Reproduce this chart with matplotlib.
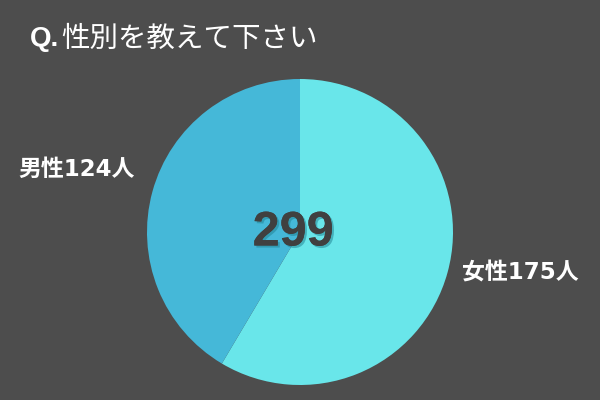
import matplotlib.pyplot as plt
from matplotlib import patheffects

plt.rcParams['font.family'] = ['Noto Sans CJK JP', 'DejaVu Sans']

# data
labels = ["女性175人", "男性124人"]
values = [175, 124]
colors = ["#69e6ea", "#45b8d8"]
total_label = "299"
title = "性別を教えて下さい"

bg = "#4d4d4d"
mixed = ["DejaVu Sans", "Noto Sans CJK JP"]

fig = plt.figure(figsize=(6, 4), dpi=100, facecolor=bg)
ax = fig.add_axes([0, 0, 1, 1])
ax.set_facecolor(bg)

ax.pie(values, colors=colors, startangle=90, counterclock=False,
       center=(300, 168), radius=153, frame=True)
ax.set_xlim(0, 600)
ax.set_ylim(0, 400)
ax.set_aspect("equal")
ax.axis("off")

# title
ax.text(30, 361, "Q.", color="white", fontsize=20, fontweight="bold",
        va="center", ha="left", family="Liberation Sans")
ax.text(61, 361, title, color="white", fontsize=20.5, va="center", ha="left")

# labels
ax.text(18, 231, labels[1], color="white", fontsize=16.5, fontweight="bold",
        va="center", ha="left", family=mixed)
ax.text(462, 127, labels[0], color="white", fontsize=16.5, fontweight="bold",
        va="center", ha="left", family=mixed)

# center total
ax.text(293, 167, total_label, color="#404040", fontsize=35, fontweight="bold",
        va="center", ha="center", family="Liberation Sans",
        path_effects=[patheffects.withSimplePatchShadow(offset=(1.5, -1.5),
                                                         shadow_rgbFace="#1e7f90",
                                                         alpha=0.5),
                      patheffects.Normal()])

fig.savefig("out.png", dpi=100, facecolor=bg)
